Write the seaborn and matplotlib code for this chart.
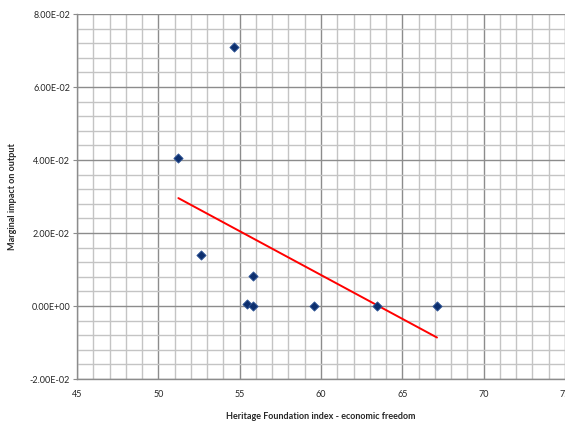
import numpy as np
import pandas as pd
import matplotlib
matplotlib.use("Agg")
import matplotlib.pyplot as plt
import seaborn as sns
from matplotlib.ticker import MultipleLocator, FuncFormatter

freedom_index = [51.23, 54.66, 52.61, 55.81, 55.48, 55.83, 59.60, 63.44, 67.13]
marginal_impact = [0.0405, 0.0709, 0.0141, 0.0082, 0.0005, 0.0001, 0.0001, 0.0001, 0.0001]

x_label = "Heritage Foundation index - economic freedom"
y_label = "Marginal impact on output"

df = pd.DataFrame({"x": freedom_index, "y": marginal_impact})

sns.set_theme(style="white")
plt.rcParams["font.family"] = ["Lato", "DejaVu Sans"]

fig = plt.figure(figsize=(5.65, 4.23), dpi=100)
ax = fig.add_axes([0.1363, 0.104, 0.8637, 0.8629])

ax.set_xlim(45, 75)
ax.set_ylim(-0.02, 0.08)
ax.xaxis.set_major_locator(MultipleLocator(5))
ax.xaxis.set_minor_locator(MultipleLocator(1))
ax.yaxis.set_major_locator(MultipleLocator(0.02))
ax.yaxis.set_minor_locator(MultipleLocator(0.004))
ax.grid(which="minor", color="#c4c4c4", linewidth=1.0)
ax.grid(which="major", color="#8c8c8c", linewidth=1.0)
ax.set_axisbelow(True)

sns.regplot(data=df, x="x", y="y", ax=ax, ci=None, scatter=False, truncate=True,
            line_kws=dict(color="#ff0000", linewidth=1.4))
sns.scatterplot(data=df, x="x", y="y", ax=ax, marker="D", s=22, color="#0d2f6e",
                edgecolor="#2f5597", linewidth=0.6, zorder=5)

ax.yaxis.set_major_formatter(FuncFormatter(lambda v, p: f"{v:.2E}"))
ax.tick_params(axis="y", which="major", length=3, width=0.8, color="#8c8c8c",
               labelsize=6.5, pad=2, left=True)
ax.tick_params(axis="x", which="major", length=0, labelsize=6.5, pad=8)
ax.tick_params(which="minor", length=0)

for s in ["top", "right"]:
    ax.spines[s].set_visible(False)
for s in ["left", "bottom"]:
    ax.spines[s].set_color("#8c8c8c")
    ax.spines[s].set_linewidth(1.0)

ax.set_xlabel(x_label, fontsize=6.5, fontweight="bold", labelpad=9)
ax.set_ylabel(y_label, fontsize=6.5, fontweight="bold")
ax.yaxis.set_label_coords(-0.123, 0.5)

fig.savefig("out.png", dpi=100)
